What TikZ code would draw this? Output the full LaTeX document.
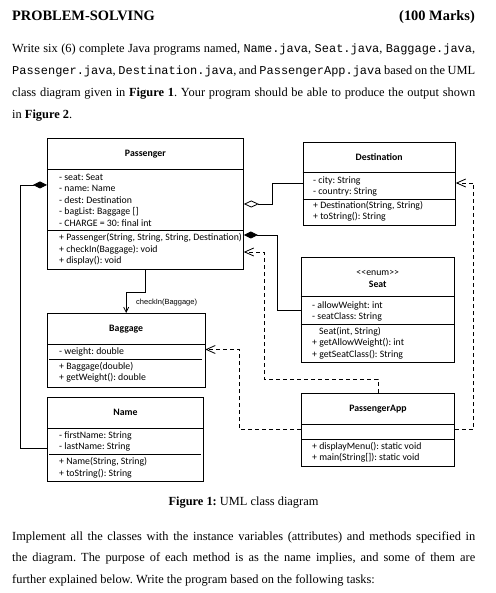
\documentclass[tikz,border=0pt]{standalone}
\usepackage{fontspec}
\setmainfont{Liberation Serif}
\setmonofont[Scale=0.965]{Liberation Mono}
\newfontfamily\umlfont{Carlito}
\newfontfamily\labelfont{Liberation Sans}
\usetikzlibrary{arrows.meta}

\newcommand\umlsize{\umlfont\fontsize{9.8}{11.5}\selectfont}
\newcommand\bodysize{\fontsize{12.4}{15}\selectfont}
\frenchspacing

\begin{document}
\begin{tikzpicture}[
  x=1pt, y=-1pt,
  heading/.style={inner sep=0pt, font=\bfseries\fontsize{14.4}{17}\selectfont},
  textline/.style={inner sep=0pt, anchor=base west, font=\bodysize},
  classbox/.style={draw, line width=0.8pt, anchor=north west, inner sep=0pt},
  classname/.style={inner sep=0pt, font=\umlsize\bfseries},
  member/.style={anchor=west, inner sep=0pt, text height=7pt, text depth=2pt, font=\umlsize},
  divider/.style={line width=0.8pt},
  link/.style={line width=0.8pt},
  composition/.style={link, {Diamond[length=14pt,width=7pt]}-},
  aggregation/.style={link, {Diamond[open,fill=white,length=15pt,width=7pt]}-},
  depend/.style={link, dash pattern=on 4pt off 3pt, -{Straight Barb[length=9pt,width=8pt]}},
  message/.style={link, -{Straight Barb[length=5pt,width=5pt]}},
]
\useasboundingbox (0,0) rectangle (495,593);

% heading and intro
\node[heading, anchor=base west] (heading) at (12,20.5) {PROBLEM-SOLVING};
\node[heading, anchor=base east] (marks) at (475,20.5) {(100 Marks)};
\node[textline] (intro-1) at (12,52.5) {\makebox[463pt][s]{Write six (6) complete Java programs named, \texttt{Name.java}, \texttt{Seat.java}, \texttt{Baggage.java},}};
\node[textline] (intro-2) at (12,74.5) {\makebox[463pt][s]{\texttt{Passenger.java}, \texttt{Destination.java}, and \texttt{PassengerApp.java} based on the UML}};
\node[textline] (intro-3) at (12,96.5) {\makebox[463pt][s]{class diagram given in \textbf{Figure 1}. Your program should be able to produce the output shown}};
\node[textline] (intro-4) at (12,118.5) {in \textbf{Figure 2}.};

% Passenger
\node[classbox, minimum width=196pt, minimum height=131pt] (passenger) at (47,138) {};
\node[classname] (passenger-title) at (passenger.north |- 0,154) {Passenger};
\draw[divider] (passenger.west |- 0,169) -- (passenger.east |- 0,169);
\draw[divider] (passenger.west |- 0,230.5) -- (passenger.east |- 0,230.5);
\foreach \t [count=\i] in {- seat: Seat, - name: Name, - dest: Destination, - bagList: Baggage [], - CHARGE = 30: final int}
  \node[member] (passenger-attr-\i) at (59,{177.7+11.6*(\i-1)}) {\t};
\foreach \t [count=\i] in {{+ Passenger(String, String, String, Destination)}, + checkIn(Baggage): void, + display(): void}
  \node[member] (passenger-op-\i) at (59,{237.7+11.8*(\i-1)}) {\t};

% Destination
\node[classbox, minimum width=152.5pt, minimum height=83.3pt] (destination) at (302.5,141.7) {};
\node[classname] (destination-title) at (destination.north |- 0,156.7) {Destination};
\draw[divider] (destination.west |- 0,172.7) -- (destination.east |- 0,172.7);
\draw[divider] (destination.west |- 0,199) -- (destination.east |- 0,199);
\foreach \t [count=\i] in {- city: String, - country: String}
  \node[member] (destination-attr-\i) at (313,{181+11.5*(\i-1)}) {\t};
\foreach \t [count=\i] in {{+ Destination(String, String)}, + toString(): String}
  \node[member] (destination-op-\i) at (313,{206+11.5*(\i-1)}) {\t};

% Seat
\node[classbox, minimum width=153.3pt, minimum height=105pt] (seat) at (300.7,257) {};
\node[member, anchor=center, font=\umlsize] (seat-stereo) at (seat.north |- 0,273.3) {<{}<enum>{}>};
\node[classname] (seat-title) at (seat.north |- 0,284.5) {Seat};
\draw[divider] (seat.west |- 0,296.7) -- (seat.east |- 0,296.7);
\draw[divider] (seat.west |- 0,324) -- (seat.east |- 0,324);
\foreach \t [count=\i] in {- allowWeight: int, - seatClass: String}
  \node[member] (seat-attr-\i) at (312,{305.7+11.6*(\i-1)}) {\t};
\node[member] (seat-op-1) at (319,331.7) {Seat(int, String)};
\foreach \t [count=\i from 2] in {+ getAllowWeight(): int, + getSeatClass(): String}
  \node[member] (seat-op-\i) at (312,{331.7+11.5*(\i-1)}) {\t};

% PassengerApp
\node[classbox, minimum width=153pt, minimum height=73pt] (passengerapp) at (301,393) {};
\node[classname] (passengerapp-title) at (passengerapp.north |- 0,409) {PassengerApp};
\draw[divider] (passengerapp.west |- 0,424) -- (passengerapp.east |- 0,424);
\draw[divider] (passengerapp.west |- 0,439) -- (passengerapp.east |- 0,439);
\foreach \t [count=\i] in {+ displayMenu(): static void, + main(String{[]}): static void}
  \node[member] (passengerapp-op-\i) at (312,{446.7+11.2*(\i-1)}) {\t};

% Baggage
\node[classbox, minimum width=157.5pt, minimum height=74pt] (baggage) at (47,313) {};
\node[classname] (baggage-title) at (baggage.north |- 0,329) {Baggage};
\draw[divider] (baggage.west |- 0,344) -- (baggage.east |- 0,344);
\draw[divider] ([xshift=2pt]baggage.west |- 0,359) -- ([xshift=-3pt]baggage.east |- 0,359);
\node[member] (baggage-attr-1) at (59,352.3) {- weight: double};
\foreach \t [count=\i] in {+ Baggage(double), + getWeight(): double}
  \node[member] (baggage-op-\i) at (59,{367+11.4*(\i-1)}) {\t};

% Name
\node[classbox, minimum width=156pt, minimum height=84pt] (name) at (47,397) {};
\node[classname] (name-title) at (name.north |- 0,412.7) {Name};
\draw[divider] (name.west |- 0,428) -- (name.east |- 0,428);
\draw[divider] ([xshift=2pt]name.west |- 0,454) -- ([xshift=-3pt]name.east |- 0,454);
\foreach \t [count=\i] in {- firstName: String, - lastName: String}
  \node[member] (name-attr-\i) at (59,{435.7+11.6*(\i-1)}) {\t};
\foreach \t [count=\i] in {{+ Name(String, String)}, + toString(): String}
  \node[member] (name-op-\i) at (59,{462.3+11.7*(\i-1)}) {\t};

% associations
\draw[composition] (passenger.west |- 0,185) -- ++(-27,0) |- (name.west |- 0,448);
\draw[aggregation] (passenger.east |- 0,204) -- ++(29,0) |- (destination.west |- 0,183);
\draw[composition] (passenger.east |- 0,235) -- ++(34,0) |- (seat.west |- 0,310);
\draw[message] (passenger.south) -- ++(0,23) -| (baggage.north);
\node[anchor=west, inner sep=0pt, font=\labelfont\fontsize{7.5}{9}\selectfont] (checkin-label) at (136,302.7) {checkIn(Baggage)};

% dependencies
\draw[depend] (passengerapp.north) |- (264,379) |- (passenger.east |- 0,252);
\draw[depend] (passengerapp.east |- 0,429) -- ++(19,0) |- (destination.east |- 0,183);
\draw[depend] (passengerapp.west |- 0,429) -- ++(-62,0) |- (baggage.east |- 0,349.5);

% caption and following text
\node[inner sep=0pt, anchor=base, font=\bodysize] (caption) at (243.5,505) {\textbf{Figure 1:} UML class diagram};
\node[textline] (body-1) at (12,540) {\makebox[463pt][s]{Implement all the classes with the instance variables (attributes) and methods specified in}};
\node[textline] (body-2) at (12,561.7) {\makebox[463pt][s]{the diagram. The purpose of each method is as the name implies, and some of them are}};
\node[textline] (body-3) at (12,583.3) {further explained below. Write the program based on the following tasks:};
\end{tikzpicture}
\end{document}
